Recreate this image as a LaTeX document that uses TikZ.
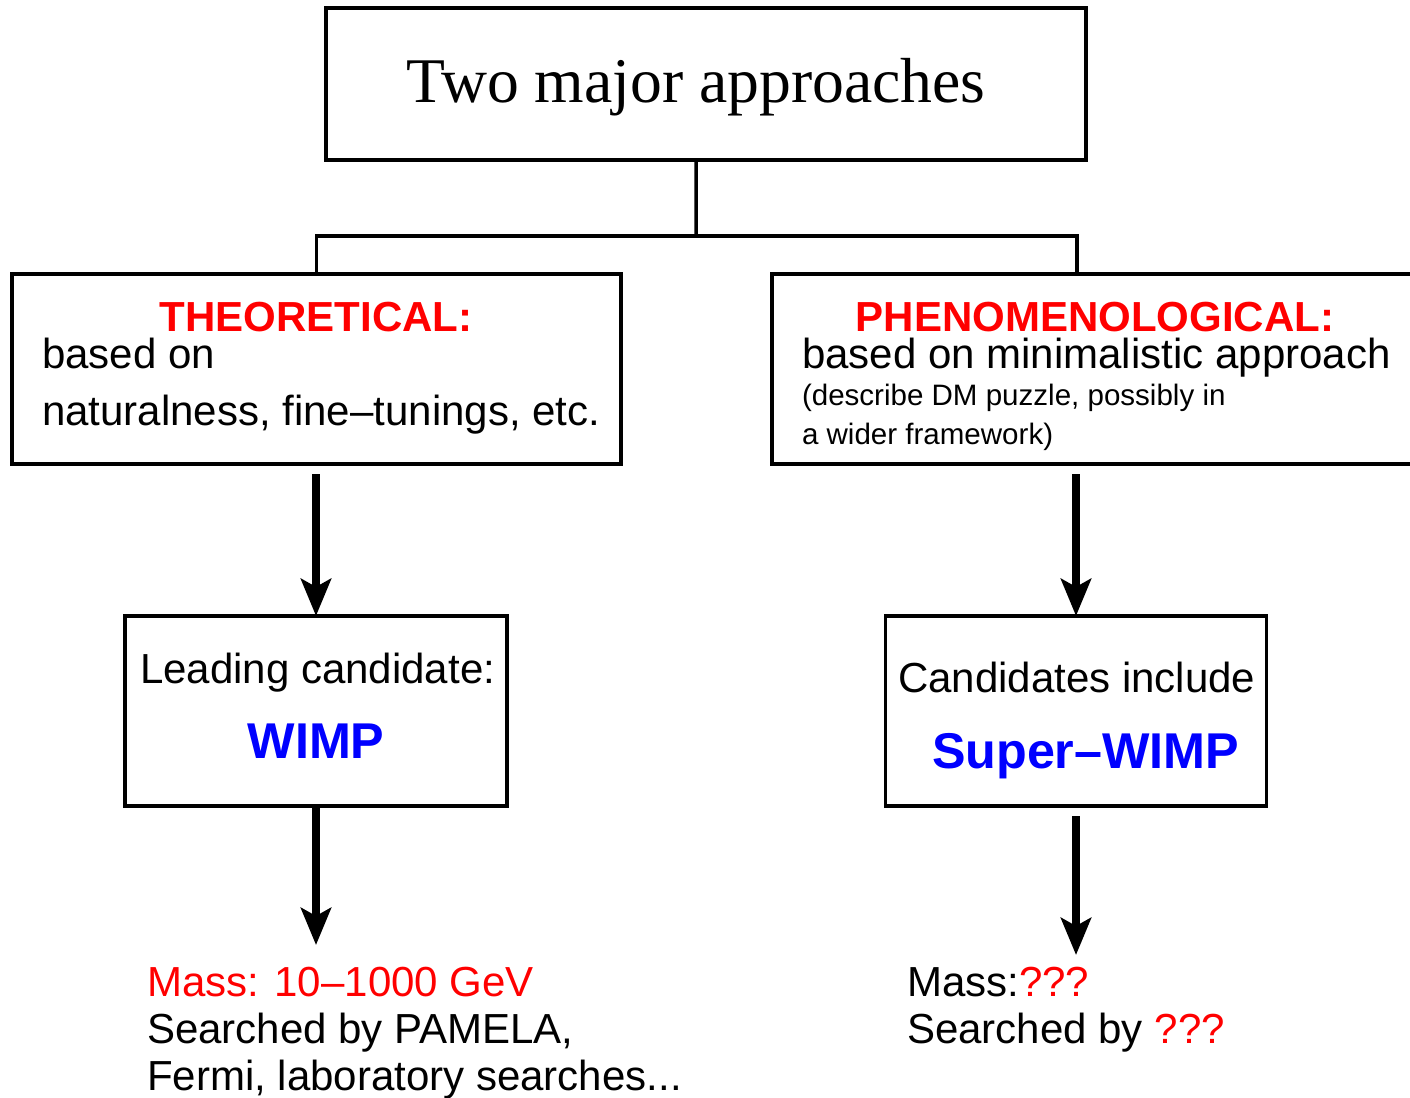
\documentclass[tikz,border=0pt]{standalone}
\usepackage{fontspec}
\setmainfont{Liberation Sans}
\newfontfamily\titlefont{Liberation Serif}
\usetikzlibrary{arrows.meta}
\definecolor{hdred}{rgb}{1,0,0}
\definecolor{hdblue}{rgb}{0,0,1}
\begin{document}
\begin{tikzpicture}[x=0.01cm, y=-0.01cm,
  boxstyle/.style={draw, line width=1pt, rectangle, inner sep=0pt, outer sep=0pt},
  txt/.style={inner sep=0pt, outer sep=0pt, font=\fontsize{11.95pt}{14pt}\selectfont},
  smalltxt/.style={inner sep=0pt, outer sep=0pt, font=\fontsize{8.4pt}{10pt}\selectfont},
  headtxt/.style={inner sep=0pt, outer sep=0pt, text=hdred, font=\fontsize{11.95pt}{14pt}\selectfont\bfseries},
  candtxt/.style={inner sep=0pt, outer sep=0pt, text=hdblue, font=\fontsize{14.3pt}{17pt}\selectfont\bfseries},
  conn/.style={line width=1pt},
  bigarrow/.style={line width=2.2pt, -{Stealth[length=0.37cm, width=0.30cm, inset=0.08cm]}}
]
\useasboundingbox (0,0) rectangle (1410,1097);

% boxes
\node[boxstyle, minimum width=7.6cm, minimum height=1.52cm] (top) at (706,84) {};
\node[boxstyle, minimum width=6.09cm, minimum height=1.90cm] (left) at (316.5,369) {};
\node[boxstyle, minimum width=6.68cm, minimum height=1.90cm] (right) at (1106,369) {};
\node[boxstyle, minimum width=3.82cm, minimum height=1.90cm] (wimp) at (316,711) {};
\node[boxstyle, minimum width=3.81cm, minimum height=1.90cm] (cand) at (1076,711) {};

% title
\node[inner sep=0pt, anchor=base, font=\titlefont\fontsize{18.1pt}{21pt}\selectfont] (title) at (696,103) {Two major approaches};

% left box texts
\node[headtxt, anchor=base] (theo) at (316,331) {THEORETICAL:};
\node[txt, anchor=base west] (theo1) at (42,368) {based on};
\node[txt, anchor=base west] (theo2) at (42,425) {naturalness, fine–tunings, etc.};

% right box texts
\node[headtxt, anchor=base] (phen) at (1095,331) {PHENOMENOLOGICAL:};
\node[txt, anchor=base west] (phen1) at (802,368) {based on minimalistic approach};
\node[smalltxt, anchor=base west] (phen2) at (802,405) {(describe DM puzzle, possibly in};
\node[smalltxt, anchor=base west] (phen3) at (802,444) {a wider framework)};

% candidate boxes
\node[txt, anchor=base west] (lead) at (140,683) {Leading candidate:};
\node[candtxt, anchor=base] (wimpname) at (316,758) {WIMP};
\node[txt, anchor=base west] (candinc) at (898,692) {Candidates include};
\node[candtxt, anchor=base west] (superw) at (932,768) {Super–WIMP};

% bottom texts
\node[txt, anchor=base west, text=hdred] (mass1) at (147,996) {Mass: 10–1000 GeV};
\node[txt, anchor=base west] (search1) at (147,1043) {Searched by PAMELA,};
\node[txt, anchor=base west] (search1b) at (147,1090) {Fermi, laboratory searches...};
\node[txt, anchor=base west] (mass2) at (907,996) {Mass:\textcolor{hdred}{???}};
\node[txt, anchor=base west] (search2) at (907,1043) {Searched by \textcolor{hdred}{???}};

% tree connector
\coordinate (tbot) at ([xshift=-0.1cm]top.south);
\coordinate (junc) at (696,236);
\coordinate (rtop) at (1077,274);
\draw[conn] (tbot) -- (junc);
\draw[conn] (left.north) |- (junc) -| (rtop);

% arrows
\coordinate (lstart) at (316,474);
\coordinate (rstart) at (1076,474);
\coordinate (rstart2) at (1076,816);
\coordinate (lend) at (316,945);
\coordinate (rend) at (1076,955);
\draw[bigarrow] (lstart) -- (wimp.north);
\draw[bigarrow] (rstart) -- (cand.north);
\draw[bigarrow] (wimp.south) -- (lend);
\draw[bigarrow] (rstart2) -- (rend);
\end{tikzpicture}
\end{document}
